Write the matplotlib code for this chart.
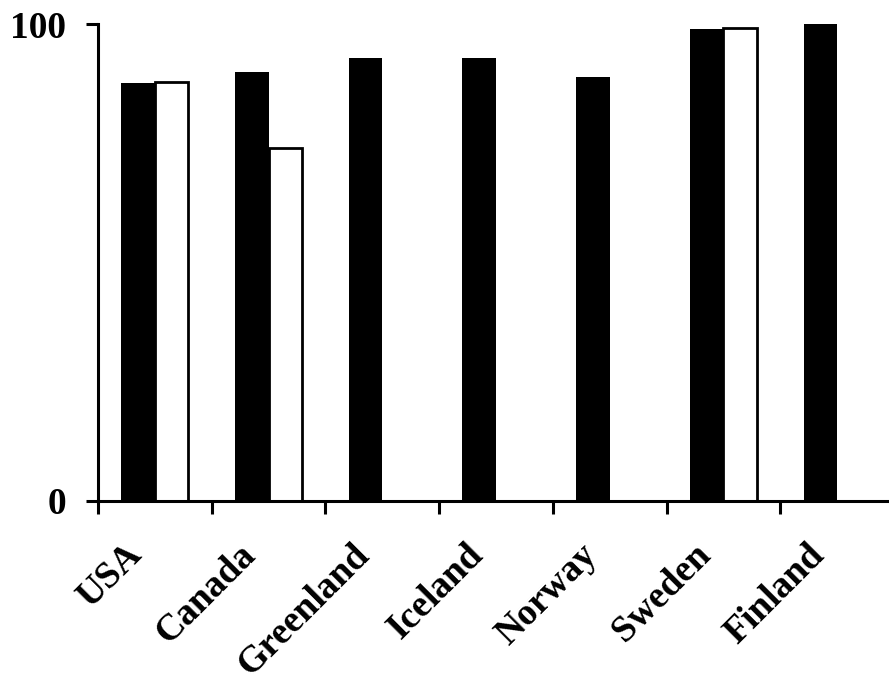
import matplotlib
matplotlib.use("Agg")
import matplotlib.pyplot as plt
import matplotlib.transforms as mtransforms
import numpy as np

categories = ["USA", "Canada", "Greenland", "Iceland", "Norway", "Sweden", "Finland"]
series_black = [87.6, 89.9, 92.9, 92.9, 89.0, 99.1, 100.0]
series_white = [88.0, 74.0, None, None, None, 99.3, None]
y_ticks = [0, 100]

plt.rcParams["font.family"] = ["Liberation Serif", "DejaVu Serif"]
plt.rcParams["font.weight"] = "bold"

fig = plt.figure(figsize=(8.89, 6.82), dpi=100)
ax = fig.add_axes([98 / 889, 181 / 682, 796 / 889, 476.7 / 682])

x = np.arange(len(categories))
w = 0.295
ax.bar(x - w / 2, series_black, width=w, color="black", edgecolor="black", linewidth=0)
wx = [xi + w / 2 for xi, v in zip(x, series_white) if v is not None]
wv = [v for v in series_white if v is not None]
ax.bar(wx, wv, width=w, color="white", edgecolor="black", linewidth=2.0)

ax.set_xlim(-0.5, len(categories) - 0.5)
ax.set_ylim(0, 100)

for s in ["top", "right"]:
    ax.spines[s].set_visible(False)
for s in ["left", "bottom"]:
    ax.spines[s].set_linewidth(2.2)
ax.spines["bottom"].set_clip_on(False)

ax.set_xticks(np.arange(-0.5, len(categories), 1.0))
ax.set_xticklabels([])
ax.set_xticks(x, minor=True)
ax.set_xticklabels(categories, minor=True, rotation=45, ha="right", va="top",
                   fontsize=27, fontweight="bold", family="Liberation Serif")
ax.tick_params(axis="x", which="major", direction="out", length=9, width=2.2)
ax.tick_params(axis="x", which="minor", length=0, pad=26)

offset = mtransforms.ScaledTranslation(-6 / 100, 0, fig.dpi_scale_trans)
for lab in ax.get_xticklabels(minor=True):
    lab.set_transform(lab.get_transform() + offset)

ax.set_yticks(y_ticks)
ax.set_yticklabels([str(t) for t in y_ticks], fontsize=27, fontweight="bold",
                   family="Liberation Serif")
ax.tick_params(axis="y", direction="out", length=9, width=2.2, pad=14)

fig.savefig("out.png", dpi=100)
